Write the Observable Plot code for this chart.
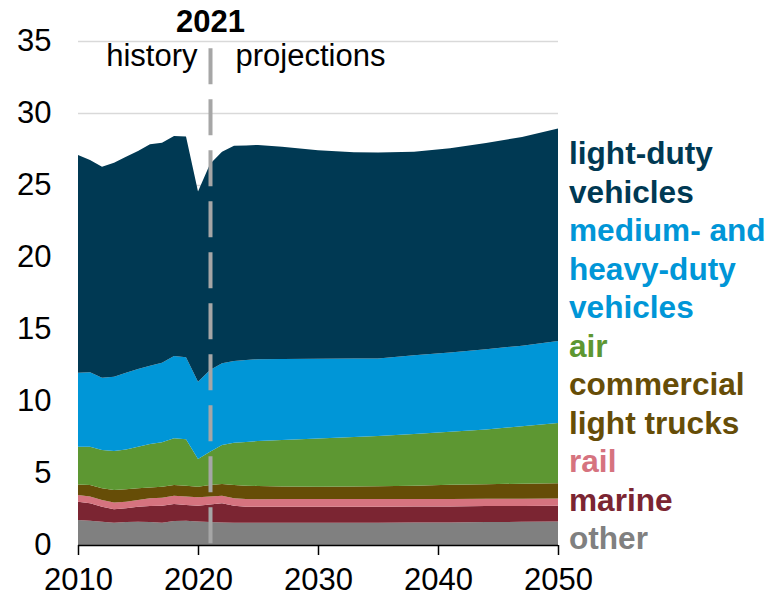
<!DOCTYPE html>
<html>
<head>
<meta charset="utf-8">
<script src="https://cdn.jsdelivr.net/npm/d3@7"></script>
<script src="https://cdn.jsdelivr.net/npm/@observablehq/plot@0.6"></script>
<style>
  html, body { margin: 0; padding: 0; background: #fff; }
  #wrap { position: relative; width: 773px; height: 596px; font-family: Arial, "Liberation Sans", sans-serif; }
  #legend { position: absolute; left: 569px; top: 134px; font-weight: bold; font-size: 31.6px; line-height: 38.5px; white-space: nowrap; }
  #legend div { margin: 0; }
</style>
</head>
<body>
<div id="wrap"><div id="chart"></div><div id="legend"></div></div>
<script>
// Years (history 2010-2021, projections to 2050)
const years = [2010,2011,2012,2013,2014,2015,2016,2017,2018,2019,2020,2021,2022,2023,2024,2025,2027,2030,2033,2035,2038,2041,2044,2047,2050];

// Series values (stack layers, bottom to top)
const other      = [1.74,1.69,1.62,1.55,1.60,1.62,1.60,1.55,1.67,1.69,1.64,1.60,1.57,1.55,1.55,1.55,1.55,1.55,1.55,1.55,1.56,1.57,1.59,1.61,1.63];
const marine     = [1.27,1.21,1.04,0.93,0.95,1.04,1.11,1.18,1.18,1.09,1.09,1.22,1.33,1.18,1.11,1.11,1.11,1.11,1.11,1.11,1.11,1.11,1.11,1.10,1.10];
const rail       = [0.46,0.46,0.47,0.48,0.46,0.47,0.53,0.55,0.57,0.58,0.58,0.54,0.52,0.51,0.54,0.52,0.53,0.53,0.53,0.53,0.52,0.52,0.51,0.51,0.50];
const commercial = [0.74,0.81,0.81,0.86,0.86,0.81,0.76,0.77,0.75,0.76,0.74,0.81,0.82,0.93,0.92,0.92,0.88,0.86,0.88,0.89,0.93,0.98,1.01,1.04,1.05];
const air        = [2.62,2.66,2.66,2.71,2.77,2.89,3.01,3.08,3.24,3.22,1.92,2.31,2.70,2.93,3.03,3.12,3.23,3.35,3.43,3.49,3.58,3.69,3.80,3.99,4.20];
const medHeavy   = [5.14,5.16,5.02,5.16,5.33,5.39,5.44,5.53,5.71,5.69,5.37,5.67,5.68,5.68,5.70,5.68,5.62,5.54,5.45,5.39,5.48,5.49,5.58,5.59,5.69];
const lightDuty  = [15.11,14.75,14.65,14.86,15.00,15.14,15.38,15.28,15.28,15.33,13.20,14.31,14.69,14.95,14.90,14.88,14.74,14.48,14.33,14.29,14.13,14.19,14.32,14.49,14.76];

const seriesNames = ["other","marine","rail","commercial light trucks","air","medium- and heavy-duty vehicles","light-duty vehicles"];
const seriesColors = ["#808080","#7b2532","#d6737f","#664d07","#5d9732","#0096d7","#003953"];
const seriesValues = [other, marine, rail, commercial, air, medHeavy, lightDuty];

// legend lines (top to bottom) with series index
const legendLines = [
  ["light-duty", 6], ["vehicles", 6],
  ["medium- and", 5], ["heavy-duty", 5], ["vehicles", 5],
  ["air", 4],
  ["commercial", 3], ["light trucks", 3],
  ["rail", 2],
  ["marine", 1],
  ["other", 0]
];

const yTicks = [0,5,10,15,20,25,30,35];
const xTicks = [2010,2020,2030,2040,2050];
const splitYear = 2021;

const data = [];
seriesNames.forEach((s, i) => {
  years.forEach((yr, j) => data.push({year: yr, series: s, value: seriesValues[i][j]}));
});

const chart = Plot.plot({
  width: 773,
  height: 596,
  marginLeft: 78,
  marginRight: 215,
  marginTop: 41,
  marginBottom: 51,
  style: {fontFamily: "Arial, 'Liberation Sans', sans-serif", fontSize: "31px", color: "#000", background: "#fff"},
  x: {domain: [2010, 2050]},
  y: {domain: [0, 35]},
  color: {domain: seriesNames, range: seriesColors},
  marks: [
    Plot.ruleY(yTicks.filter(d => d > 0), {stroke: "#d9d9d9", strokeWidth: 1.5}),
    Plot.areaY(data, {x: "year", y: "value", z: "series", fill: "series", order: seriesNames, curve: "linear"}),
    Plot.ruleX([splitYear], {y1: 34.5, y2: 0, stroke: "#a6a6a6", strokeWidth: 4, strokeDasharray: "36,15"}),
    Plot.ruleY([0], {stroke: "#000", strokeWidth: 1.5}),
    Plot.axisY({ticks: yTicks, tickSize: 0, tickPadding: 27, fontSize: 31, label: null}),
    Plot.axisX({ticks: xTicks, tickFormat: d => String(d), tickSize: 10, tickPadding: 12, fontSize: 31, strokeWidth: 1.5, label: null}),
    Plot.text([splitYear], {x: d => d, y: 35, dy: -19, text: d => String(d), fontWeight: "bold", fontSize: 31, fill: "#000"}),
    Plot.text([splitYear], {x: d => d, y: 35, dy: 15, dx: -13, text: () => "history", textAnchor: "end", fontSize: 31, fill: "#000"}),
    Plot.text([splitYear], {x: d => d, y: 35, dy: 15, dx: 25, text: () => "projections", textAnchor: "start", fontSize: 31, fill: "#000"})
  ]
});
document.getElementById("chart").appendChild(chart);

const legend = document.getElementById("legend");
legendLines.forEach(([t, i]) => {
  const div = document.createElement("div");
  div.textContent = t;
  div.style.color = seriesColors[i];
  legend.appendChild(div);
});
</script>
</body>
</html>
